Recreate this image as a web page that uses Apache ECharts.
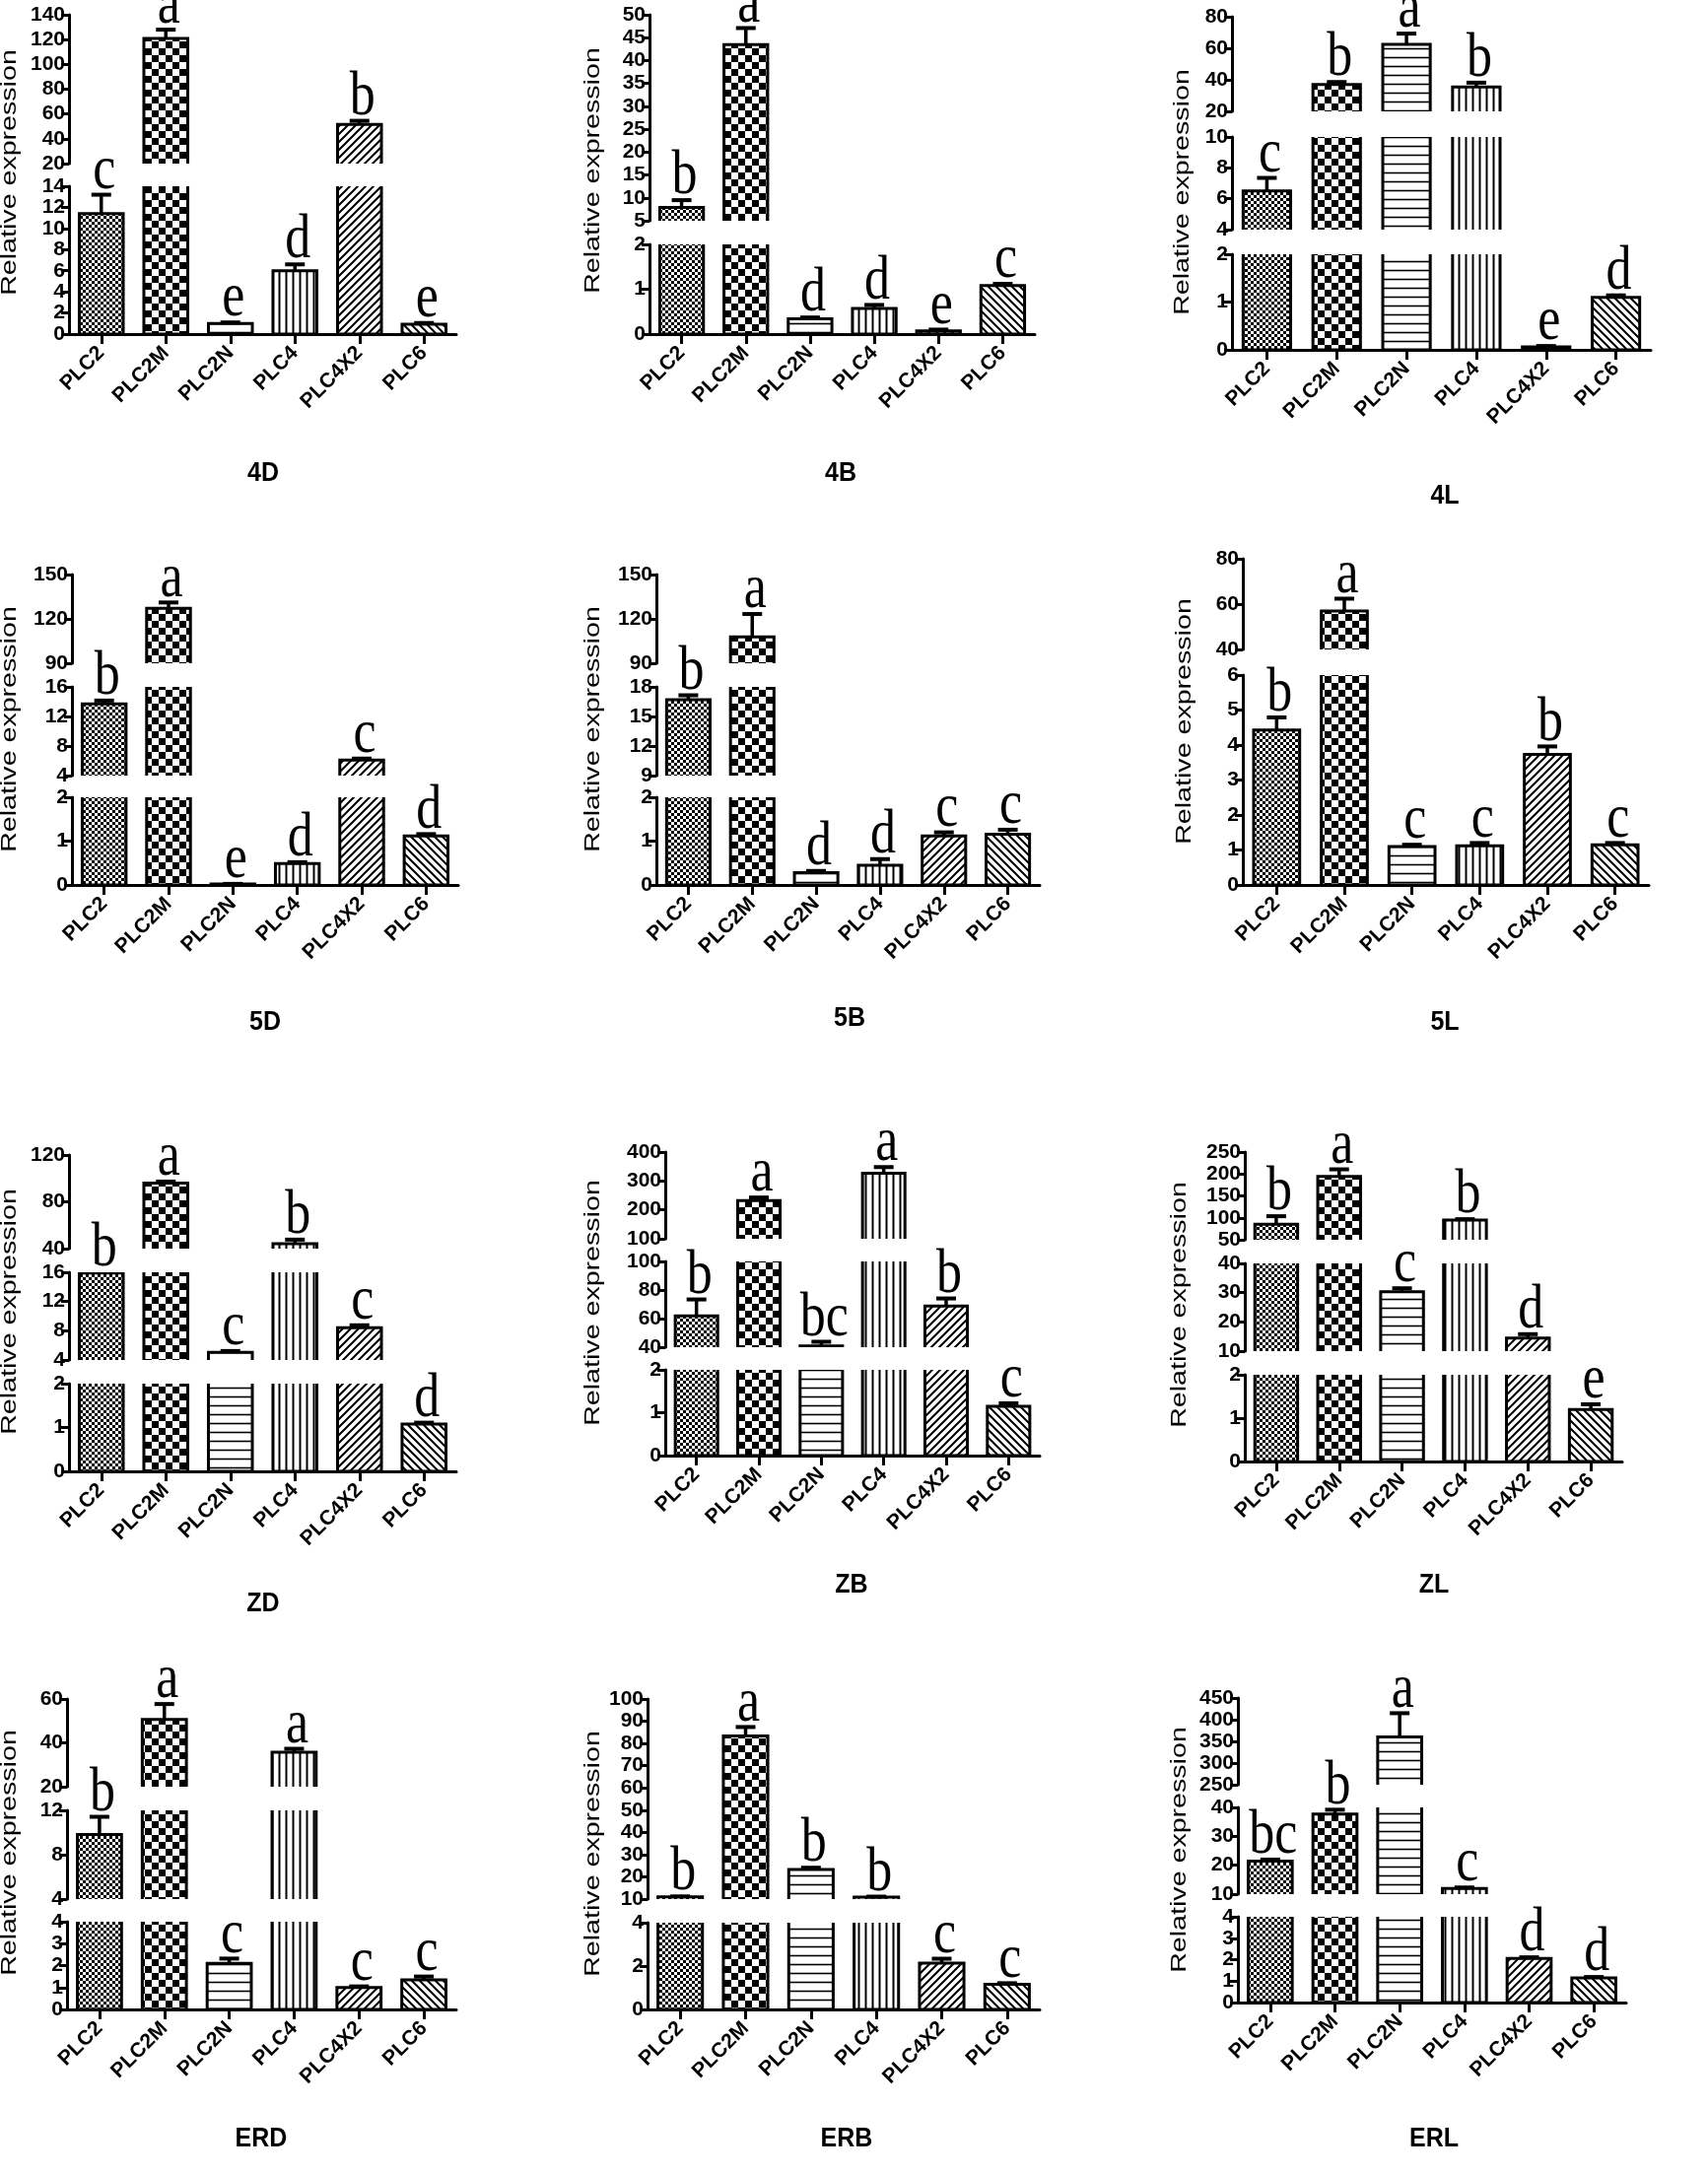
<!DOCTYPE html>
<html><head><meta charset="utf-8">
<script src="https://cdn.jsdelivr.net/npm/echarts@6/dist/echarts.min.js"></script>
<style>html,body{margin:0;padding:0;background:#fff}#c{width:1733px;height:2207px}</style>
</head><body><div id="c"></div>
<script>
// ---------------- DATA ----------------
const categories = ['PLC2','PLC2M','PLC2N','PLC4','PLC4X2','PLC6'];
const panels = ['4D','4B','4L','5D','5B','5L','ZD','ZB','ZL','ERD','ERB','ERL'];
const yTitle = 'Relative expression';

// broken y-axis segments, bottom to top: [min, max, interval]
const axis_4D = [[0,14,2],[20,140,20]];
const axis_4B = [[0,2,1],[5,50,5]];
const axis_4L = [[0,2,1],[4,10,2],[20,80,20]];
const axis_5D = [[0,2,1],[4,16,4],[90,150,30]];
const axis_5B = [[0,2,1],[9,18,3],[90,150,30]];
const axis_5L = [[0,6,1],[40,80,20]];
const axis_ZD = [[0,2,1],[4,16,4],[40,120,40]];
const axis_ZB = [[0,2,1],[40,100,20],[100,400,100]];
const axis_ZL = [[0,2,1],[10,40,10],[50,250,50]];
const axis_ERD = [[0,4,1],[4,12,4],[20,60,20]];
const axis_ERB = [[0,4,2],[10,100,10]];
const axis_ERL = [[0,4,1],[10,40,10],[250,450,50]];

// means (order = categories)
const mean_4D = [11.4, 121, 1.0, 6.0, 51.5, 0.93];
const mean_4B = [7.9, 43.5, 0.34, 0.57, 0.07, 1.08];
const mean_4L = [6.5, 37, 62.5, 35.5, 0.06, 1.1];
const mean_5D = [13.7, 127.1, 0.02, 0.49, 6.1, 1.12];
const mean_5B = [16.7, 107.8, 0.28, 0.45, 1.12, 1.16];
const mean_5L = [4.43, 57, 1.1, 1.12, 3.73, 1.15];
const mean_ZD = [15.9, 96.1, 5.03, 44.2, 8.4, 1.08];
const mean_ZB = [61.9, 231.7, 40.8, 327, 68.8, 1.15];
const mean_ZL = [85.2, 194.6, 30.3, 94.9, 14.5, 1.2];
const mean_ERD = [9.82, 50.7, 2.1, 35.7, 1.0, 1.35];
const mean_ERB = [11.0, 83.4, 23.3, 10.9, 2.14, 1.16];
const mean_ERL = [21.45, 37.7, 360, 11.95, 2.06, 1.15];

// error (upper SD)
const sd_4D = [1.8, 7, 0.1, 0.6, 3, 0.12];
const sd_4B = [1.6, 3.6, 0.03, 0.08, 0.03, 0.04];
const sd_4L = [0.85, 1.6, 6.8, 2.7, 0.02, 0.04];
const sd_5D = [0.45, 4, 0.005, 0.03, 0.2, 0.04];
const sd_5B = [0.45, 15.5, 0.04, 0.14, 0.08, 0.1];
const sd_5L = [0.36, 5.4, 0.05, 0.08, 0.23, 0.05];
const sd_ZD = [0.1, 1.2, 0.2, 3.5, 0.35, 0.03];
const sd_ZB = [11.5, 11, 3, 21, 5.3, 0.07];
const sd_ZL = [18.5, 16, 1.2, 2, 1.3, 0.12];
const sd_ERD = [1.6, 7, 0.22, 1.6, 0.05, 0.15];
const sd_ERB = [0.2, 4, 0.8, 0.2, 0.2, 0.05];
const sd_ERL = [0.5, 1.5, 55, 0.35, 0.05, 0.04];

// significance letters
const sig_4D = ['c','a','e','d','b','e'];
const sig_4B = ['b','a','d','d','e','c'];
const sig_4L = ['c','b','a','b','e','d'];
const sig_5D = ['b','a','e','d','c','d'];
const sig_5B = ['b','a','d','d','c','c'];
const sig_5L = ['b','a','c','c','b','c'];
const sig_ZD = ['b','a','c','b','c','d'];
const sig_ZB = ['b','a','bc','a','b','c'];
const sig_ZL = ['b','a','c','b','d','e'];
const sig_ERD = ['b','a','c','a','c','c'];
const sig_ERB = ['b','a','b','b','c','c'];
const sig_ERL = ['bc','b','a','c','d','d'];

const AXES = {'4D':axis_4D,'4B':axis_4B,'4L':axis_4L,'5D':axis_5D,'5B':axis_5B,'5L':axis_5L,'ZD':axis_ZD,'ZB':axis_ZB,'ZL':axis_ZL,'ERD':axis_ERD,'ERB':axis_ERB,'ERL':axis_ERL};
const MEANS = {'4D':mean_4D,'4B':mean_4B,'4L':mean_4L,'5D':mean_5D,'5B':mean_5B,'5L':mean_5L,'ZD':mean_ZD,'ZB':mean_ZB,'ZL':mean_ZL,'ERD':mean_ERD,'ERB':mean_ERB,'ERL':mean_ERL};
const SDS = {'4D':sd_4D,'4B':sd_4B,'4L':sd_4L,'5D':sd_5D,'5B':sd_5B,'5L':sd_5L,'ZD':sd_ZD,'ZB':sd_ZB,'ZL':sd_ZL,'ERD':sd_ERD,'ERB':sd_ERB,'ERL':sd_ERL};
const SIGS = {'4D':sig_4D,'4B':sig_4B,'4L':sig_4L,'5D':sig_5D,'5B':sig_5B,'5L':sig_5L,'ZD':sig_ZD,'ZB':sig_ZB,'ZL':sig_ZL,'ERD':sig_ERD,'ERB':sig_ERB,'ERL':sig_ERL};

// ---------------- LAYOUT (pixels) ----------------
// seg: [bottomPx, topPx] for each axis segment, bottom to top
const layout = {
  '4D': {left:70,  right:463,  seg:[[339,189],[166,15]],              title:[10,175],   label:[267,480]},
  '4B': {left:659, right:1050, seg:[[339,248],[224,15]],              title:[602,173],  label:[853,480]},
  '4L': {left:1250,right:1675, seg:[[355,258],[233,139],[113,17]],    title:[1200,195], label:[1466,503]},
  '5D': {left:73,  right:465,  seg:[[898,809],[787,697],[673,583]],   title:[10,740],   label:[269,1037]},
  '5B': {left:666, right:1055, seg:[[898,809],[787,697],[673,583]],   title:[602,740],  label:[862,1033]},
  '5L': {left:1261,right:1673, seg:[[898,685],[659,567]],             title:[1202,732], label:[1466,1037]},
  'ZD': {left:70,  right:463,  seg:[[1493,1404],[1380,1291],[1267,1172]], title:[10,1331],  label:[267,1627]},
  'ZB': {left:675, right:1055, seg:[[1477,1390],[1367,1280],[1257,1169]], title:[602,1322], label:[864,1608]},
  'ZL': {left:1263,right:1646, seg:[[1483,1395],[1371,1282],[1258,1169]], title:[1197,1324],label:[1455,1608]},
  'ERD':{left:68,  right:463,  seg:[[2039,1950],[1927,1837],[1813,1724]], title:[10,1880],  label:[265,2170]},
  'ERB':{left:657, right:1055, seg:[[2039,1951],[1927,1724]],             title:[602,1881], label:[859,2170]},
  'ERL':{left:1256,right:1650, seg:[[2032,1945],[1922,1834],[1811,1723]], title:[1197,1877],label:[1455,2170]}
};

const SANS = '"Liberation Sans", Arial, Helvetica, sans-serif';
const NARROW = '"Liberation Sans Narrow", "Arial Narrow", "Liberation Sans", Arial, sans-serif';
const SERIF = '"Liberation Serif", "Times New Roman", serif';

// ---------------- PATTERNS ----------------
function makePattern(kind) {
  const c = document.createElement('canvas');
  let s = 8;
  if (kind === 'fine') s = 6;
  if (kind === 'check') s = 14;
  if (kind === 'h') s = 9;
  if (kind === 'v') s = 7;
  c.width = s; c.height = s;
  const g = c.getContext('2d');
  g.fillStyle = '#fff'; g.fillRect(0, 0, s, s);
  g.fillStyle = '#000'; g.strokeStyle = '#000';
  if (kind === 'fine') { g.fillRect(0,0,3,3); g.fillRect(3,3,3,3); }
  else if (kind === 'check') { g.fillRect(0,0,7,7); g.fillRect(7,7,7,7); }
  else if (kind === 'h') { g.lineWidth = 1.6; g.beginPath(); g.moveTo(0,4.5); g.lineTo(s,4.5); g.stroke(); }
  else if (kind === 'v') { g.lineWidth = 2; g.beginPath(); g.moveTo(3.5,0); g.lineTo(3.5,s); g.stroke(); }
  else if (kind === 'fwd') {
    g.lineWidth = 2; g.beginPath();
    g.moveTo(0,s); g.lineTo(s,0); g.moveTo(-1,1); g.lineTo(1,-1); g.moveTo(s-1,s+1); g.lineTo(s+1,s-1);
    g.stroke();
  } else if (kind === 'back') {
    g.lineWidth = 2; g.beginPath();
    g.moveTo(0,0); g.lineTo(s,s); g.moveTo(-1,s-1); g.lineTo(1,s+1); g.moveTo(s-1,-1); g.lineTo(s+1,1);
    g.stroke();
  }
  return {image: c, repeat: 'repeat'};
}
const PATTERNS = ['fine','check','h','v','fwd','back'].map(makePattern);

// ---------------- OPTION ----------------
const option = {animation:false, backgroundColor:'#fff', textStyle:{fontFamily:SANS},
  grid:[], xAxis:[], yAxis:[], series:[], graphic:[]};

panels.forEach(name => {
  const L = layout[name], axes = AXES[name], mean = MEANS[name], sd = SDS[name], sig = SIGS[name];
  const letterSeg = mean.map((v, i) => {
    const t = v + sd[i];
    let k = 0;
    axes.forEach((a, j) => { if (t >= a[0]) k = j; });
    return k;
  });
  axes.forEach((ax, k) => {
    const idx = option.grid.length;
    const pb = L.seg[k][0], pt = L.seg[k][1];
    const isBottom = k === 0;
    const segMin = ax[0], segMax = ax[1];
    option.grid.push({left:L.left, top:pt, width:L.right - L.left, height:pb - pt});
    option.xAxis.push({type:'category', gridIndex:idx, data:categories, boundaryGap:true,
      axisLine:{show:isBottom, onZero:false, lineStyle:{color:'#000', width:3}},
      axisTick:{show:isBottom, alignWithLabel:true, length:10, lineStyle:{color:'#000', width:3}},
      axisLabel:{show:isBottom, interval:0, rotate:45, margin:16, color:'#000', fontFamily:SANS, fontWeight:'bold', fontSize:21, hideOverlap:false},
      splitLine:{show:false}});
    option.yAxis.push({type:'value', gridIndex:idx, min:segMin, max:segMax, interval:ax[2],
      axisLine:{show:true, lineStyle:{color:'#000', width:3}},
      axisTick:{show:true, length:8, lineStyle:{color:'#000', width:3}},
      axisLabel:{color:'#000', fontFamily:NARROW, fontWeight:'bold', fontSize:21, lineHeight:15, margin:4,
        showMinLabel:true, showMaxLabel:true, hideOverlap:false},
      splitLine:{show:false}});
    option.series.push({type:'custom', xAxisIndex:idx, yAxisIndex:idx, clip:true, silent:true,
      data: mean.map((v, i) => [i, v, sd[i]]),
      renderItem: (params, api) => {
        const i = api.value(0), v = api.value(1), e = api.value(2);
        if (v <= segMin) return null;
        const bw = api.size([1, 0])[0] * 0.68;
        const cx = api.coord([i, segMin])[0];
        const yBase = isBottom ? api.coord([i, 0])[1] : api.coord([i, segMin])[1] + 12;
        const yTop = v > segMax ? api.coord([i, segMax])[1] - 12 : api.coord([i, v])[1];
        const children = [{type:'rect', shape:{x:cx - bw/2, y:yTop, width:bw, height:yBase - yTop},
          style:{fill:PATTERNS[i], stroke:'#000', lineWidth:3}}];
        const t = v + e;
        if (e > 0 && v <= segMax && t >= segMin) {
          const y0 = api.coord([i, Math.max(v, segMin)])[1];
          const y1 = api.coord([i, t])[1];
          children.push({type:'line', shape:{x1:cx, y1:y0, x2:cx, y2:y1}, style:{stroke:'#000', lineWidth:3.5}});
          children.push({type:'line', shape:{x1:cx - 10, y1:y1, x2:cx + 10, y2:y1}, style:{stroke:'#000', lineWidth:4}});
        }
        return {type:'group', children};
      }});
    const idxs = [];
    letterSeg.forEach((s, i) => { if (s === k) idxs.push(i); });
    if (idxs.length) {
      option.series.push({type:'custom', xAxisIndex:idx, yAxisIndex:idx, clip:false, silent:true,
        data: idxs.map(i => [i, mean[i] + sd[i]]),
        renderItem: (params, api) => {
          const i = api.value(0), t = api.value(1);
          const p = api.coord([i, t]);
          return {type:'text', x:p[0] + 3, y:p[1] + 8, scaleY:1.2,
            style:{text:sig[i], fill:'#000', fontFamily:SERIF, fontSize:52, align:'center', verticalAlign:'bottom'}};
        }});
    }
  });
  option.graphic.push({type:'text', x:L.title[0], y:L.title[1], rotation:Math.PI/2, scaleX:1.3,
    style:{text:yTitle, fill:'#000', fontFamily:SANS, fontSize:22, align:'center', verticalAlign:'middle'}});
  option.graphic.push({type:'text', x:L.label[0], y:L.label[1], scaleY:1.12,
    style:{text:name, fill:'#000', fontFamily:SANS, fontWeight:'bold', fontSize:25, align:'center', verticalAlign:'middle'}});
});

const chart = echarts.init(document.getElementById('c'), null, {renderer:'canvas'});
chart.setOption(option);
</script>
</body></html>
